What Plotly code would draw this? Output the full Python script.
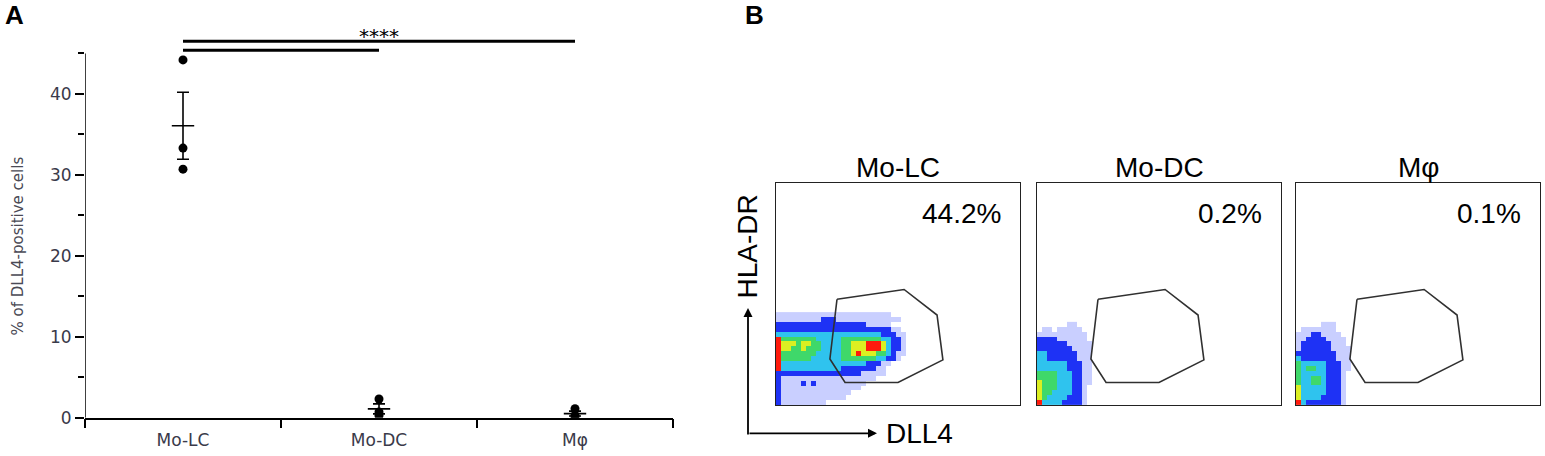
import plotly.graph_objects as go
import numpy as np

# ---------------- Panel A data ----------------
CATEGORIES = ["Mo-LC", "Mo-DC", "Mφ"]
MO_LC = [44.2, 33.3, 30.7]
MO_DC = [2.3, 0.7, 0.25]
MPHI = [1.1, 0.3, 0.1]
GROUP_VALUES = [MO_LC, MO_DC, MPHI]
Y_MAJOR = [0, 10, 20, 30, 40]
Y_MINOR = [5, 15, 25, 35, 45]
Y_TITLE = "% of DLL4-positive cells"
SIG_FROM = [0, 0]
SIG_TO = [2, 1]
SIG_HEIGHT = [46.5, 45.4]
SIG_LABEL = "****"
SIG_LABEL_Y = 47.15

# ---------------- Panel B data ----------------
FLOW_TITLES = ["Mo-LC", "Mo-DC", "Mφ"]
FLOW_PERCENT = ["44.2%", "0.2%", "0.1%"]
GATE_X = [25.0, 52.5, 66.0, 68.4, 50.0, 28.3, 22.1, 23.4, 25.0]
GATE_Y = [47.6, 52.0, 40.5, 20.3, 10.1, 10.1, 20.7, 33.9, 47.6]
BIN_X = 2.05   # density bin width (axis units 0-100)
BIN_Y = 2.2    # density bin height
# density levels (top row first): 0 none, 1 sparse events,
# 2 blue, 3 cyan, 4 green, 5 yellow, 6 red
DENSITY_MOLC = [
    "111111111111111111111110000",
    "111111111222111111111111100",
    "222222222222222222111110000",
    "222222222222222222222221100",
    "333333333333333333333222110",
    "644444443333344444444332210",
    "655545544333344555666532210",
    "655445444333344555666532210",
    "644444443333344565554432110",
    "644444433333344444443322100",
    "633333333333333333222110000",
    "633333333333322222221100000",
    "222222222222222221111100000",
    "211111111111111111110000000",
    "211112121111111111000000000",
    "211111111111111110000000000",
    "211111111111111000000000000",
    "211111111111110000000000000",
    "211111111100000000000000000",
]
DENSITY_MODC = [
    "000000110000",
    "011011111000",
    "111111111100",
    "222211111100",
    "222222111110",
    "222222211110",
    "332222221110",
    "332222221110",
    "333333222110",
    "333333222110",
    "444433322110",
    "444433322110",
    "544433322110",
    "544433322100",
    "544333322100",
    "543333222100",
    "633332222100",
]
DENSITY_MPHI = [
    "000001110000",
    "011111110000",
    "111221111000",
    "112222111100",
    "122222211100",
    "122222211110",
    "222222221110",
    "322222221110",
    "433333222110",
    "434433222110",
    "433333222100",
    "433443222100",
    "433443222100",
    "533333222100",
    "533333222100",
    "533332222100",
    "632222222100",
]
FLOW_DENSITIES = [DENSITY_MOLC, DENSITY_MODC, DENSITY_MPHI]

LEVEL_COLORS = ["#c9cfff", "#1e32f5", "#2fc3ee", "#3fd86a", "#dcef22", "#ff1a0c"]

W, H = 1545, 456
FONT_A = "DejaVu Sans"
FONT_B = "Liberation Sans, Arial, sans-serif"

fig = go.Figure()

# ---------------- Panel A traces ----------------
xs, ys = [], []
for i, vals in enumerate(GROUP_VALUES):
    xs += [i] * len(vals)
    ys += vals
fig.add_trace(go.Scatter(
    x=xs, y=ys, mode="markers", xaxis="x", yaxis="y",
    marker=dict(color="black", size=9), hoverinfo="skip", showlegend=False))

means = [float(np.mean(v)) for v in GROUP_VALUES]
sems = [float(np.std(v, ddof=1) / np.sqrt(len(v))) for v in GROUP_VALUES]
fig.add_trace(go.Scatter(
    x=list(range(len(CATEGORIES))), y=means, mode="markers", xaxis="x", yaxis="y",
    marker=dict(symbol="line-ew", size=16, line=dict(color="black", width=1.6)),
    error_y=dict(type="data", array=sems, visible=True, color="black", thickness=1.6, width=6),
    hoverinfo="skip", showlegend=False))

for a, b, h in zip(SIG_FROM, SIG_TO, SIG_HEIGHT):
    fig.add_trace(go.Scatter(
        x=[a, b], y=[h, h], mode="lines", xaxis="x", yaxis="y",
        line=dict(color="black", width=3), hoverinfo="skip", showlegend=False))

# ---------------- Panel B traces ----------------
n_levels = len(LEVEL_COLORS)
colorscale = []
for i, c in enumerate(LEVEL_COLORS):
    colorscale += [[i / n_levels, c], [(i + 1) / n_levels, c]]

for k, grid in enumerate(FLOW_DENSITIES):
    ax_id = str(k + 2)
    ncols = max(len(r) for r in grid)
    rows = [r.ljust(ncols, "0") for r in grid][::-1]  # bottom row first
    z = [[(int(ch) if ch != "0" else None) for ch in r] for r in rows]
    xc = [(c + 0.5) * BIN_X for c in range(ncols)]
    yc = [(r + 0.5) * BIN_Y for r in range(len(rows))]
    fig.add_trace(go.Heatmap(
        x=xc, y=yc, z=z, xaxis="x" + ax_id, yaxis="y" + ax_id,
        colorscale=colorscale, zmin=0.5, zmax=n_levels + 0.5,
        showscale=False, hoverinfo="skip"))
    fig.add_trace(go.Scatter(
        x=GATE_X, y=GATE_Y, mode="lines", xaxis="x" + ax_id, yaxis="y" + ax_id,
        line=dict(color="#303030", width=1.6), hoverinfo="skip", showlegend=False))

# ---------------- Layout ----------------
layout = dict(
    width=W, height=H, autosize=False,
    margin=dict(l=0, r=0, t=0, b=0),
    paper_bgcolor="white", plot_bgcolor="white",
    showlegend=False, hovermode=False,
)
layout["xaxis"] = dict(
    domain=[85 / W, 673 / W], range=[-0.5, 2.5], anchor="y",
    showline=True, linecolor="black", linewidth=1.5,
    tickmode="array", tickvals=list(range(len(CATEGORIES))), ticktext=CATEGORIES,
    ticks="outside", ticklen=6, tickcolor="rgba(0,0,0,0)",
    minor=dict(tickmode="array", tickvals=[-0.5, 0.5, 1.5, 2.5], ticks="outside",
               ticklen=9, tickwidth=1.5, tickcolor="black", showgrid=False),
    tickfont=dict(family=FONT_A, size=17, color="#3a3a4a"),
    showgrid=False, zeroline=False, fixedrange=True,
)
layout["yaxis"] = dict(
    domain=[29 / H, (H - 21.5) / H], range=[0, 49], anchor="x",
    showline=False,
    tickmode="array", tickvals=Y_MAJOR, ticktext=[str(v) for v in Y_MAJOR],
    ticks="outside", ticklen=9, tickwidth=1.5, tickcolor="black",
    minor=dict(tickmode="array", tickvals=Y_MINOR, ticks="outside",
               ticklen=6, tickwidth=1.5, tickcolor="black", showgrid=False),
    tickfont=dict(family=FONT_A, size=17, color="#3a3a4a"),
    showgrid=False, zeroline=False, fixedrange=True,
)

box_left = [776, 1037, 1296]
box_w = 244
for k in range(3):
    ax_id = str(k + 2)
    layout["xaxis" + ax_id] = dict(
        domain=[box_left[k] / W, (box_left[k] + box_w) / W], range=[0, 100],
        anchor="y" + ax_id, showline=True, mirror=True, linecolor="#222",
        linewidth=1.3, showticklabels=False, ticks="", showgrid=False,
        zeroline=False, fixedrange=True)
    layout["yaxis" + ax_id] = dict(
        domain=[(H - 414) / H, (H - 187) / H], range=[0, 100],
        anchor="x" + ax_id, showline=True, mirror=True, linecolor="#222",
        linewidth=1.3, showticklabels=False, ticks="", showgrid=False,
        zeroline=False, fixedrange=True)

fig.update_layout(**layout)

# y-axis line of panel A (stops at 45)
fig.add_shape(type="line", xref="x", yref="y", x0=-0.5, x1=-0.5, y0=0, y1=45,
              line=dict(color="black", width=1.5))

ann = []
ann.append(dict(text="<b>A</b>", xref="paper", yref="paper", x=14 / W, y=(H - 15) / H,
                xanchor="center", yanchor="middle", showarrow=False,
                font=dict(family=FONT_B, size=26, color="black")))
ann.append(dict(text="<b>B</b>", xref="paper", yref="paper", x=754 / W, y=(H - 15) / H,
                xanchor="center", yanchor="middle", showarrow=False,
                font=dict(family=FONT_B, size=26, color="black")))
ann.append(dict(text=Y_TITLE, xref="paper", yref="paper", x=18 / W, y=(H - 252) / H,
                xanchor="center", yanchor="middle", textangle=-90, showarrow=False,
                font=dict(family=FONT_A, size=15, color="#4a4a55")))
ann.append(dict(text=SIG_LABEL, xref="x", yref="y", x=1, y=SIG_LABEL_Y,
                showarrow=False, xanchor="center", yanchor="middle",
                font=dict(family=FONT_A, size=20, color="black")))

for k in range(3):
    ax_id = str(k + 2)
    ann.append(dict(text=FLOW_TITLES[k], xref="x" + ax_id + " domain",
                    yref="y" + ax_id + " domain", x=0.5, y=1.07,
                    xanchor="center", yanchor="middle",
                    showarrow=False, font=dict(family=FONT_B, size=28, color="black")))
    ann.append(dict(text=FLOW_PERCENT[k], xref="x" + ax_id, yref="y" + ax_id,
                    x=93, y=86, xanchor="right", yanchor="middle",
                    showarrow=False, font=dict(family=FONT_B, size=28, color="black")))

# axis arrows for flow plots
ann.append(dict(text="", xref="paper", yref="paper", x=877 / W, y=(H - 443) / H,
                ax=-129, ay=0, showarrow=True, arrowhead=2, arrowsize=1,
                arrowwidth=1.8, arrowcolor="black"))
ann.append(dict(text="", xref="paper", yref="paper", x=748 / W, y=(H - 315) / H,
                ax=0, ay=128, showarrow=True, arrowhead=2, arrowsize=1,
                arrowwidth=1.8, arrowcolor="black"))
ann.append(dict(text="HLA-DR", xref="paper", yref="paper", x=747 / W, y=(H - 252) / H,
                xanchor="center", yanchor="middle", textangle=-90, showarrow=False,
                font=dict(family=FONT_B, size=28, color="black")))
ann.append(dict(text="DLL4", xref="paper", yref="paper", x=884 / W, y=(H - 443) / H,
                xanchor="left", yanchor="middle", showarrow=False,
                font=dict(family=FONT_B, size=28, color="black")))

fig.update_layout(annotations=ann)

fig.write_html(
    "out.html",
    config={"displayModeBar": False},
    post_script=(
        "document.documentElement.style.margin='0';"
        "document.documentElement.style.overflow='hidden';"
        "document.body.style.margin='0';document.body.style.padding='0';"
        "document.body.style.overflow='hidden';"
        "var d=document.getElementById('{plot_id}');"
        "d.style.position='fixed';d.style.left='0px';d.style.top='0px';"
    ),
)
